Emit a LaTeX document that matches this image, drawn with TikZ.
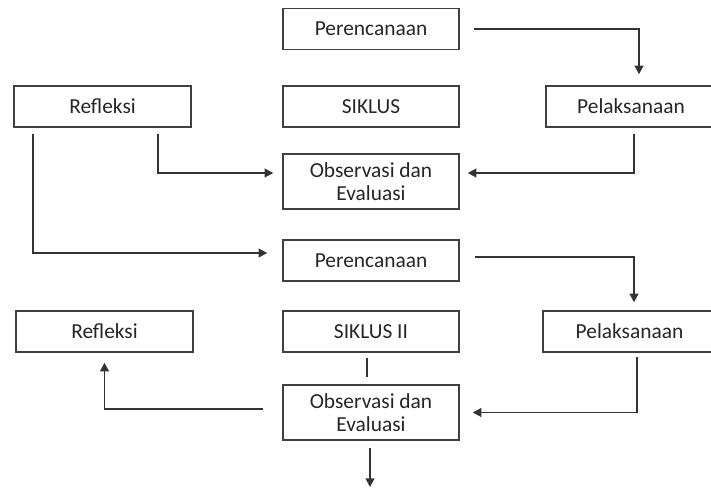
\documentclass[tikz,border=0pt]{standalone}
\usepackage{fontspec}
\setmainfont{Carlito}
\usetikzlibrary{arrows.meta}

\begin{document}
\begin{tikzpicture}[x=0.5pt,y=0.5pt,
    box/.style={draw=black!75,line width=0.75pt,minimum width=88pt,minimum height=20.5pt,
      inner sep=0pt,align=center,text=black!85,font=\fontsize{10.7}{11.6}\selectfont},
    arr/.style={draw=black!80,line width=0.75pt,-{Triangle[length=4.3pt,width=4.4pt]}},
    line/.style={draw=black!80,line width=0.75pt}]
      \clip (0,0) rectangle (711,488) ;
      \fill[white] (0,0) rectangle (711,488) ;
      % siklus I
      \node[box] (Per1) at (371,459) {Perencanaan} ;
      \node[box,minimum width=88.5pt] (Ref1) at (102.5,381.5) {Refleksi} ;
      \node[box] (Sik1) at (371,381.5) {SIKLUS} ;
      \node[box,minimum width=85pt] (Pel1) at (631,381.5) {Pelaksanaan} ;
      \node[box,minimum height=27.5pt] (Obs1) at (371,306.5) {Observasi dan\\Evaluasi} ;
      % siklus II
      \node[box] (Per2) at (371,227.5) {Perencanaan} ;
      \node[box,minimum width=88.5pt] (Ref2) at (104.5,156.5) {Refleksi} ;
      \node[box] (Sik2) at (371,156.5) {SIKLUS II} ;
      \node[box,minimum width=86.5pt] (Pel2) at (629.5,156.5) {Pelaksanaan} ;
      \node[box,minimum height=27.5pt] (Obs2) at (371,75.5) {Observasi dan\\Evaluasi} ;
      \coordinate (out) at (370,1) ;
      % alur
      \draw[arr] ([xshift=7pt]Per1.east) -| ([xshift=4pt,yshift=5.5pt]Pel1.north) ;
      \draw[arr] ([xshift=27.75pt,yshift=-3pt]Ref1.south) |- ([xshift=-4.5pt,yshift=4.25pt]Obs1.west) ;
      \draw[arr] ([xshift=-34.75pt,yshift=-3pt]Ref1.south) |- ([xshift=-7.5pt,yshift=3.75pt]Per2.west) ;
      \draw[arr] ([xshift=1.5pt,yshift=-3pt]Pel1.south) |- ([xshift=4pt,yshift=4.25pt]Obs1.east) ;
      \draw[arr] ([xshift=7.5pt,yshift=1.75pt]Per2.east) -| ([xshift=2.25pt,yshift=4pt]Pel2.north) ;
      \draw[arr] ([xshift=3.75pt,yshift=-2pt]Pel2.south) |- ([xshift=6.5pt]Obs2.east) ;
      \draw[arr] ([xshift=-9.5pt,yshift=1.75pt]Obs2.west) -| ([yshift=-5pt]Ref2.south) ;
      \draw[line] ([xshift=-2pt,yshift=-2.5pt]Sik2.south) -- ([xshift=-2pt,yshift=3.5pt]Obs2.north) ;
      \draw[arr] ([xshift=-0.5pt,yshift=-3.5pt]Obs2.south) -- (out) ;
\end{tikzpicture}
\end{document}
